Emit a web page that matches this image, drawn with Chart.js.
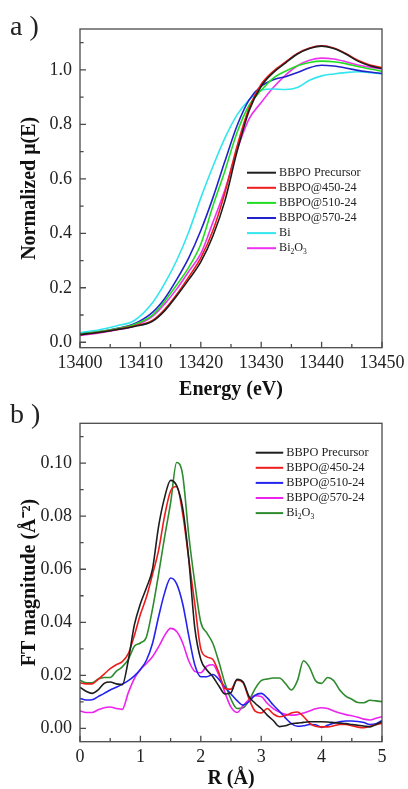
<!DOCTYPE html>
<html>
<head>
<meta charset="utf-8">
<title>XANES / EXAFS</title>
<script src="https://cdn.jsdelivr.net/npm/chart.js@4.4.1/dist/chart.umd.min.js"></script>
<style>
  body { margin: 0; background: #fff; }
  .panel { position: relative; width: 408px; }
</style>
</head>
<body>
<div class="panel" style="height:400px"><canvas id="xanes-chart"></canvas></div>
<div class="panel" style="height:389px"><canvas id="ft-chart"></canvas></div>
<script>
// ---- a) normalized XANES ----
var energy = [13400, 13403, 13406, 13409, 13412, 13414, 13416, 13418, 13420, 13422, 13424, 13426,
  13428, 13430, 13432, 13434, 13436, 13438, 13440, 13442, 13444, 13446, 13448, 13450];
var muPrecursor = [0.028, 0.036, 0.046, 0.058, 0.077, 0.115, 0.17, 0.23, 0.295, 0.39, 0.52, 0.7,
  0.85, 0.94, 0.99, 1.025, 1.058, 1.078, 1.087, 1.078, 1.058, 1.032, 1.015, 1.005];
var mu450 = [0.028, 0.036, 0.047, 0.06, 0.08, 0.12, 0.175, 0.24, 0.31, 0.41, 0.55, 0.72,
  0.86, 0.947, 0.995, 1.028, 1.06, 1.08, 1.088, 1.08, 1.06, 1.035, 1.018, 1.008];
var mu510 = [0.03, 0.038, 0.049, 0.065, 0.1, 0.15, 0.21, 0.275, 0.36, 0.5, 0.63, 0.77,
  0.87, 0.925, 0.97, 0.995, 1.015, 1.027, 1.032, 1.03, 1.023, 1.012, 1.003, 0.995];
var mu570 = [0.03, 0.038, 0.05, 0.068, 0.11, 0.16, 0.23, 0.31, 0.41, 0.53, 0.665, 0.795,
  0.89, 0.94, 0.964, 0.975, 0.99, 1.008, 1.017, 1.014, 1.007, 0.998, 0.992, 0.987];
var muBi = [0.035, 0.045, 0.06, 0.08, 0.145, 0.215, 0.3, 0.405, 0.53, 0.645, 0.75, 0.835,
  0.89, 0.925, 0.93, 0.928, 0.935, 0.962, 0.978, 0.985, 0.99, 0.993, 0.99, 0.985];
var muBi2O3 = [0.025, 0.033, 0.045, 0.06, 0.095, 0.14, 0.195, 0.26, 0.325, 0.44, 0.56, 0.705,
  0.82, 0.88, 0.935, 0.98, 1.015, 1.035, 1.043, 1.04, 1.03, 1.018, 1.01, 1.003];
var energyTicks = [13400, 13410, 13420, 13430, 13440, 13450];
var muTicks = [0.0, 0.2, 0.4, 0.6, 0.8, 1.0];

// ---- b) FT magnitude ----
var rValues = [0, 0.1, 0.2, 0.3, 0.4, 0.5, 0.6, 0.7, 0.8, 0.9, 1.0, 1.1, 1.2, 1.3, 1.4, 1.5, 1.6,
  1.7, 1.8, 1.9, 2.0, 2.1, 2.2, 2.3, 2.4, 2.5, 2.6, 2.7, 2.8, 2.9, 3.0, 3.1, 3.2, 3.3, 3.4, 3.5,
  3.6, 3.7, 3.8, 3.9, 4.0, 4.1, 4.2, 4.3, 4.4, 4.5, 4.6, 4.7, 4.8, 4.9, 5.0];
var ftPrecursor = [0.0155, 0.014, 0.0132, 0.0145, 0.017, 0.0175, 0.0168, 0.0165, 0.0257, 0.039,
  0.047, 0.053, 0.06, 0.076, 0.087, 0.0935, 0.0915, 0.083, 0.064, 0.038, 0.026, 0.022, 0.0195,
  0.016, 0.013, 0.0135, 0.0185, 0.0175, 0.012, 0.0095, 0.0075, 0.005, 0.003, 0.0007, 0.001,
  0.0018, 0.002, 0.0023, 0.0025, 0.0025, 0.0025, 0.0024, 0.0022, 0.002, 0.0018, 0.0015, 0.0012,
  0.0009, 0.0006, 0.0015, 0.0025];
var ft450 = [0.0172, 0.0168, 0.0168, 0.0185, 0.0205, 0.0225, 0.024, 0.0252, 0.0282, 0.035,
  0.043, 0.0495, 0.058, 0.067, 0.08, 0.0895, 0.0912, 0.081, 0.064, 0.047, 0.03, 0.027, 0.026,
  0.021, 0.015, 0.0148, 0.0182, 0.0172, 0.011, 0.0065, 0.0058, 0.0075, 0.0055, 0.0044, 0.0048,
  0.0058, 0.0062, 0.0045, 0.002, 0.0008, 0.0006, 0.0006, 0.001, 0.0015, 0.0015, 0.001, 0.0005,
  0.0003, 0.0008, 0.0014, 0.0019];
var ft510 = [0.0113, 0.0107, 0.0108, 0.012, 0.0132, 0.0145, 0.0155, 0.0167, 0.018, 0.0198,
  0.0222, 0.0257, 0.032, 0.042, 0.051, 0.0567, 0.0545, 0.047, 0.035, 0.024, 0.0195, 0.0195,
  0.0203, 0.0185, 0.0155, 0.013, 0.0105, 0.0088, 0.0102, 0.0125, 0.0132, 0.0115, 0.0088, 0.0065,
  0.004, 0.0018, 0.0008, 0.001, 0.0015, 0.0014, 0.0004, 0.0012, 0.002, 0.0025, 0.0028, 0.0028,
  0.0026, 0.0022, 0.0015, 0.0018, 0.003];
var ft570 = [0.0066, 0.006, 0.006, 0.007, 0.0078, 0.0081, 0.0075, 0.0072, 0.0135, 0.0188,
  0.0222, 0.0245, 0.027, 0.0307, 0.035, 0.0377, 0.0365, 0.0322, 0.0255, 0.0215, 0.021, 0.0235,
  0.024, 0.02, 0.0135, 0.008, 0.006, 0.0085, 0.011, 0.0123, 0.012, 0.0095, 0.0075, 0.0062, 0.0053,
  0.005, 0.0052, 0.0058, 0.0066, 0.0074, 0.0078, 0.0075, 0.0066, 0.0058, 0.0052, 0.0048, 0.0042,
  0.0035, 0.0032, 0.0038, 0.0044];
var ftBi2O3 = [0.0182, 0.0172, 0.0172, 0.0186, 0.0192, 0.0192, 0.0215, 0.0232, 0.026, 0.031,
  0.0322, 0.0345, 0.045, 0.058, 0.072, 0.085, 0.1002, 0.0955, 0.073, 0.055, 0.04, 0.036, 0.032,
  0.025, 0.017, 0.011, 0.0075, 0.0078, 0.0105, 0.015, 0.018, 0.0186, 0.019, 0.019, 0.017, 0.0145,
  0.018, 0.0255, 0.023, 0.018, 0.017, 0.0192, 0.018, 0.0145, 0.0122, 0.011, 0.0098, 0.0097,
  0.0106, 0.0104, 0.0101];
var rTicks = [0, 1, 2, 3, 4, 5];
var ftTicks = [0.00, 0.02, 0.04, 0.06, 0.08, 0.10];

var SERIF = '"Liberation Serif", "Times New Roman", serif';
var SUBS = '₀₁₂₃₄₅₆₇₈₉';

function points(xs, ys) {
  return xs.map(function (x, i) { return { x: x, y: ys[i] }; });
}

function line(label, color, xs, ys) {
  return {
    label: label,
    data: points(xs, ys),
    borderColor: color,
    borderWidth: 1.6,
    pointRadius: 0,
    cubicInterpolationMode: 'monotone',
    fill: false
  };
}

// writes a label, dropping subscript digits (Bi₂O₃) below the line
function drawLabel(ctx, text, x, y, size) {
  ctx.fillStyle = '#222';
  ctx.textAlign = 'left';
  ctx.textBaseline = 'middle';
  for (var ch of text) {
    var k = SUBS.indexOf(ch);
    if (k >= 0) {
      ctx.font = (size * 0.62) + 'px ' + SERIF;
      ctx.fillText(String(k), x, y + size * 0.3);
      x += ctx.measureText(String(k)).width;
    } else {
      ctx.font = size + 'px ' + SERIF;
      ctx.fillText(ch, x, y);
      x += ctx.measureText(ch).width;
    }
  }
}

// box around the plot plus inward major / minor ticks on the bottom and left
var frameTicks = {
  id: 'frameTicks',
  afterDatasetsDraw: function (chart) {
    var ctx = chart.ctx, a = chart.chartArea;
    var xs = chart.scales.x, ys = chart.scales.y;
    ctx.save();
    ctx.strokeStyle = '#4a4a4a';
    ctx.lineWidth = 1.3;
    ctx.strokeRect(a.left, a.top, a.right - a.left, a.bottom - a.top);
    ctx.beginPath();
    function marks(scale, len, fn) {
      var vals = scale.ticks.map(function (t) { return t.value; });
      var step = vals[1] - vals[0];
      vals.forEach(function (v) { fn(scale.getPixelForValue(v), len); });
      for (var m = vals[0] - step / 2; m <= scale.max + 1e-9; m += step) {
        if (m >= scale.min - 1e-9) fn(scale.getPixelForValue(m), len * 0.6);
      }
    }
    marks(xs, 6, function (px, l) { ctx.moveTo(px, a.bottom); ctx.lineTo(px, a.bottom - l); });
    marks(ys, 6, function (py, l) { ctx.moveTo(a.left, py); ctx.lineTo(a.left + l, py); });
    ctx.stroke();
    ctx.restore();
  }
};

var legendBox = {
  id: 'legendBox',
  afterDraw: function (chart, args, opts) {
    var ctx = chart.ctx;
    ctx.save();
    chart.data.datasets.forEach(function (ds, i) {
      var y = opts.y + i * opts.gap;
      ctx.strokeStyle = ds.borderColor;
      ctx.lineWidth = 2;
      ctx.beginPath();
      ctx.moveTo(opts.x, y);
      ctx.lineTo(opts.x + opts.len, y);
      ctx.stroke();
      drawLabel(ctx, ds.label, opts.x + opts.len + 3, y, opts.size);
    });
    ctx.restore();
  }
};

var panelTag = {
  id: 'panelTag',
  afterDraw: function (chart, args, opts) {
    var ctx = chart.ctx;
    ctx.save();
    ctx.fillStyle = '#222';
    ctx.font = '28px ' + SERIF;
    ctx.textAlign = 'left';
    ctx.textBaseline = 'alphabetic';
    ctx.fillText(opts.text, opts.x, opts.y);
    ctx.restore();
  }
};

// fixed axis sizes so the plot box lands where it should
function fixWidth(w) {
  return function (scale) {
    scale.width = w;
    scale.paddingTop = scale.paddingBottom = scale.paddingLeft = scale.paddingRight = 0;
  };
}
function fixHeight(h) {
  return function (scale) {
    scale.height = h;
    scale.paddingTop = scale.paddingBottom = scale.paddingLeft = scale.paddingRight = 0;
  };
}
function useTicks(list) {
  return function (scale) {
    scale.ticks = list.map(function (v) { return { value: v }; });
  };
}

function axes(o) {
  return {
    x: {
      type: 'linear', min: o.xMin, max: o.xMax,
      afterBuildTicks: useTicks(o.xTicks),
      afterFit: fixHeight(o.xHeight),
      grid: { display: false, drawTicks: false },
      border: { display: false },
      ticks: {
        font: { family: SERIF, size: 18 }, color: '#222', padding: 5,
        maxRotation: 0, autoSkip: false,
        callback: function (v) { return String(v); }
      },
      title: {
        display: true, text: o.xTitle, color: '#111',
        font: { family: SERIF, size: 20, weight: 'bold', lineHeight: 1 },
        padding: { top: 0, bottom: 0 }
      }
    },
    y: {
      type: 'linear', min: o.yMin, max: o.yMax,
      afterBuildTicks: useTicks(o.yTicks),
      afterFit: fixWidth(80),
      grid: { display: false, drawTicks: false },
      border: { display: false },
      ticks: {
        font: { family: SERIF, size: 18 }, color: '#222', padding: 8,
        callback: function (v) { return v.toFixed(o.digits); }
      },
      title: {
        display: true, text: o.yTitle, color: '#111',
        font: { family: SERIF, size: 20, weight: 'bold', lineHeight: 1 },
        padding: { top: 20, bottom: 0 }
      }
    }
  };
}

Chart.defaults.animation = false;

// start XANES
new Chart(document.getElementById('xanes-chart'), {
  type: 'line',
  data: {
    datasets: [
      line('BBPO Precursor', '#1e1e1e', energy, muPrecursor),
      line('BBPO@450-24', '#ee1c1c', energy, mu450),
      line('BBPO@510-24', '#22dd22', energy, mu510),
      line('BBPO@570-24', '#2222cc', energy, mu570),
      line('Bi', '#33e6ee', energy, muBi),
      line('Bi₂O₃', '#ee33ee', energy, muBi2O3)
    ]
  },
  options: {
    responsive: true,
    maintainAspectRatio: false,
    layout: { padding: { top: 29, right: 26, left: 0, bottom: 0 } },
    scales: axes({
      xMin: 13400, xMax: 13450, xTicks: energyTicks, xHeight: 52.3, xTitle: 'Energy (eV)',
      yMin: -0.02, yMax: 1.15, yTicks: muTicks, digits: 1, yTitle: 'Normalized μ(E)'
    }),
    plugins: {
      legend: { display: false },
      tooltip: { enabled: false },
      legendBox: { x: 247, y: 172.7, gap: 15.1, len: 29, size: 12.2 },
      panelTag: { text: 'a )', x: 10, y: 35 }
    }
  },
  plugins: [frameTicks, legendBox, panelTag]
});

// start FT magnitude
new Chart(document.getElementById('ft-chart'), {
  type: 'line',
  data: {
    datasets: [
      line('BBPO Precursor', '#1e1e1e', rValues, ftPrecursor),
      line('BBPO@450-24', '#ee1c1c', rValues, ft450),
      line('BBPO@510-24', '#2424ee', rValues, ft510),
      line('BBPO@570-24', '#ee22ee', rValues, ft570),
      line('Bi₂O₃', '#2e8b2e', rValues, ftBi2O3)
    ]
  },
  options: {
    responsive: true,
    maintainAspectRatio: false,
    layout: { padding: { top: 23.3, right: 26, left: 0, bottom: 0 } },
    scales: axes({
      xMin: 0, xMax: 5, xTicks: rTicks, xHeight: 47.3, xTitle: 'R (Å)',
      yMin: -0.005, yMax: 0.115, yTicks: ftTicks, digits: 2, yTitle: 'FT magnitude (Å⁻²)'
    }),
    plugins: {
      legend: { display: false },
      tooltip: { enabled: false },
      legendBox: { x: 255.7, y: 52.7, gap: 15.1, len: 27.5, size: 12.3 },
      panelTag: { text: 'b )', x: 10, y: 23 }
    }
  },
  plugins: [frameTicks, legendBox, panelTag]
});
</script>
</body>
</html>
